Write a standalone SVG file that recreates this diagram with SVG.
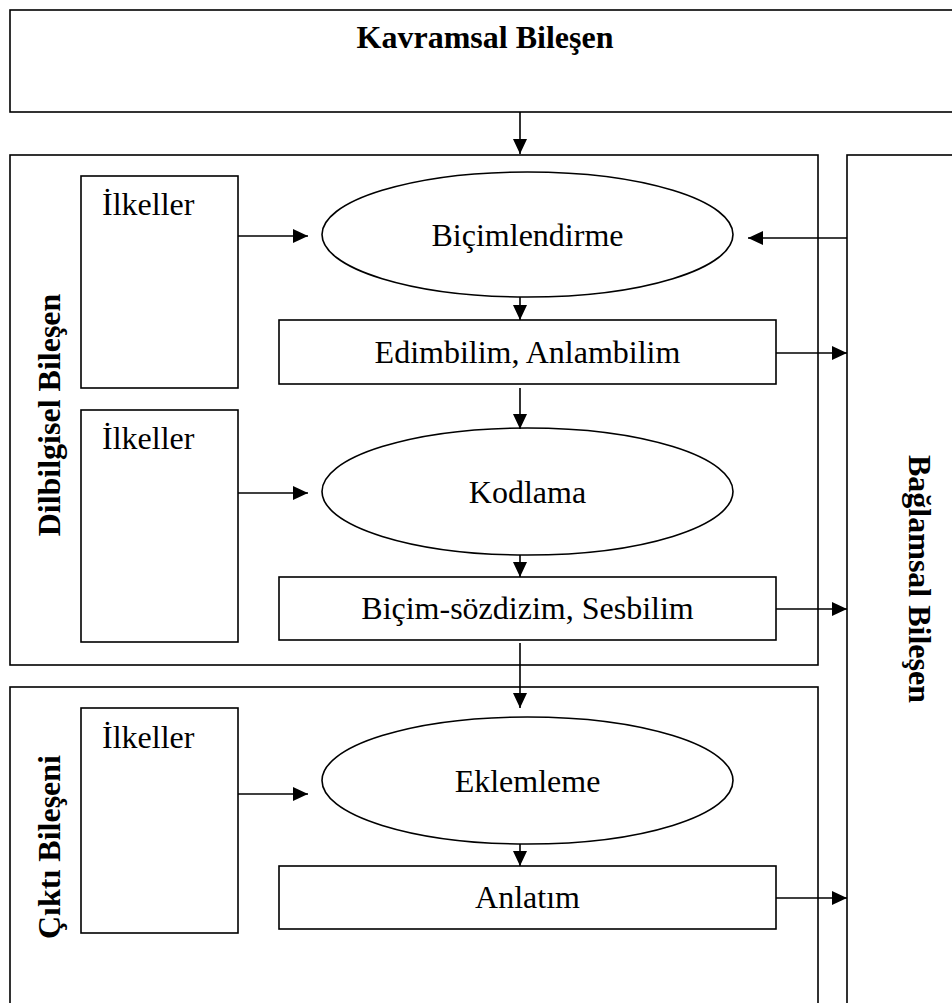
<svg xmlns="http://www.w3.org/2000/svg" width="952" height="1003" viewBox="0 0 952 1003">
<defs>
<marker id="ah" markerUnits="userSpaceOnUse" markerWidth="15" markerHeight="14" refX="15" refY="7" orient="auto">
<path d="M0,0 L15,7 L0,14 Z" fill="#000"/>
</marker>
<style>
.box{fill:#fff;stroke:#000;stroke-width:1.6}
.ell{fill:#fff;stroke:#000;stroke-width:1.6}
.t{font-family:"Liberation Serif","Times New Roman",serif;font-size:32px;fill:#000}
.tb{font-family:"Liberation Serif","Times New Roman",serif;font-size:32px;font-weight:bold;fill:#000}
.c{stroke:#000;stroke-width:1.6;fill:none;marker-end:url(#ah)}
</style>
</defs>
<rect width="952" height="1003" fill="#fff"/>

<g id="kavramsal">
<rect class="box" x="10" y="10" width="960" height="102"/>
<text class="tb" x="485" y="48" text-anchor="middle">Kavramsal Bileşen</text>
</g>

<g id="dilbilgisel">
<rect class="box" x="10" y="155" width="808" height="510"/>
<text class="tb" transform="translate(60,415) rotate(-90)" text-anchor="middle">Dilbilgisel Bileşen</text>
</g>

<g id="baglamsal">
<rect class="box" x="847" y="155" width="120" height="860"/>
<text class="tb" transform="translate(909,579) rotate(90)" text-anchor="middle">Bağlamsal Bileşen</text>
</g>

<g id="cikti">
<rect class="box" x="10" y="687" width="808" height="330"/>
<text class="tb" transform="translate(60,847) rotate(-90)" text-anchor="middle">Çıktı Bileşeni</text>
</g>

<g id="ilkeller1">
<rect class="box" x="81" y="176" width="157" height="212"/>
<text class="t" x="102" y="215">İlkeller</text>
</g>
<g id="ilkeller2">
<rect class="box" x="81" y="410" width="157" height="232"/>
<text class="t" x="102" y="449">İlkeller</text>
</g>
<g id="ilkeller3">
<rect class="box" x="81" y="708" width="157" height="225"/>
<text class="t" x="102" y="748">İlkeller</text>
</g>

<g id="bicimlendirme">
<ellipse class="ell" cx="527.5" cy="234.5" rx="205.5" ry="62.5"/>
<text class="t" x="527.5" y="246" text-anchor="middle">Biçimlendirme</text>
</g>
<g id="edimbilim">
<rect class="box" x="279" y="320" width="497" height="64"/>
<text class="t" x="527.5" y="363" text-anchor="middle">Edimbilim, Anlambilim</text>
</g>
<g id="kodlama">
<ellipse class="ell" cx="527.5" cy="491.5" rx="205.5" ry="63.5"/>
<text class="t" x="527.5" y="503" text-anchor="middle">Kodlama</text>
</g>
<g id="bicim-sozdizim">
<rect class="box" x="279" y="577" width="497" height="63"/>
<text class="t" x="527.5" y="619" text-anchor="middle">Biçim-sözdizim, Sesbilim</text>
</g>
<g id="eklemleme">
<ellipse class="ell" cx="527.5" cy="780.5" rx="205.5" ry="63.5"/>
<text class="t" x="527.5" y="792" text-anchor="middle">Eklemleme</text>
</g>
<g id="anlatim">
<rect class="box" x="279" y="866" width="497" height="63"/>
<text class="t" x="527.5" y="908" text-anchor="middle">Anlatım</text>
</g>

<g id="connectors">
<line class="c" x1="520" y1="112" x2="520" y2="154"/>
<line class="c" x1="238" y1="236" x2="308" y2="236"/>
<line class="c" x1="847" y1="238" x2="748" y2="238"/>
<line class="c" x1="520" y1="297" x2="520" y2="320"/>
<line class="c" x1="776" y1="353" x2="847" y2="353"/>
<line class="c" x1="520" y1="388" x2="520" y2="429"/>
<line class="c" x1="238" y1="493" x2="308" y2="493"/>
<line class="c" x1="520" y1="555" x2="520" y2="577"/>
<line class="c" x1="776" y1="609" x2="847" y2="609"/>
<line class="c" x1="520" y1="643" x2="520" y2="708"/>
<line class="c" x1="238" y1="794" x2="308" y2="794"/>
<line class="c" x1="520" y1="844" x2="520" y2="866"/>
<line class="c" x1="776" y1="898" x2="847" y2="898"/>
</g>
</svg>
